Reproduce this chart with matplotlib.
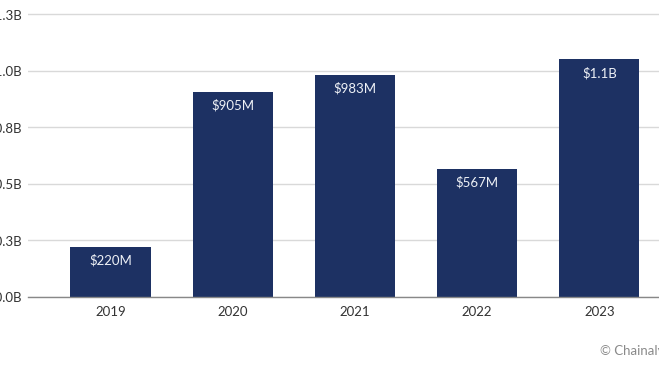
import matplotlib.pyplot as plt

# ================================================================
# DATA
# ================================================================
years = ["2019", "2020", "2021", "2022", "2023"]
values_b = [0.220, 0.905, 0.983, 0.567, 1.05]   # billions USD
bar_labels = ["$220M", "$905M", "$983M", "$567M", "$1.1B"]
y_ticks = [0.0, 0.25, 0.5, 0.75, 1.0, 1.25]
y_tick_labels = ["$0.0B", "$0.3B", "$0.5B", "$0.8B", "$1.0B", "$1.3B"]

NAVY = "#1d3163"
TEXT = "#333333"

plt.rcParams["font.family"] = ["Lato", "DejaVu Sans"]

# ================================================================
# PLOT
# ================================================================
fig = plt.figure(figsize=(6.59, 3.71), dpi=100)
ax = fig.add_axes([0.0425, 0.2003, 0.9967, 0.7919])

x = list(range(len(years)))
ax.bar(x, values_b, width=0.655, color=NAVY, zorder=3)

for xi, v, lab in zip(x, values_b, bar_labels):
    ax.text(xi, v - 0.06, lab, ha="center", va="center",
            color="#eef1f6", fontsize=9.5, zorder=4)

ax.set_xlim(-0.675, 4.7)
ax.set_ylim(0, 1.3)
ax.set_xticks(x)
ax.set_xticklabels(years)
ax.set_yticks(y_ticks)
ax.set_yticklabels(y_tick_labels)

ax.grid(axis="y", color="#d9d9d9", linewidth=1.0, zorder=0)
for s in ["top", "right", "left"]:
    ax.spines[s].set_visible(False)
ax.spines["bottom"].set_color("#888888")
ax.spines["bottom"].set_linewidth(1.0)
ax.spines["bottom"].set_zorder(4)

ax.tick_params(axis="both", length=0, labelsize=9.5, labelcolor=TEXT)
ax.tick_params(axis="y", pad=4.5)
ax.tick_params(axis="x", pad=7)

fig.text(600 / 659, 1 - 351 / 371, "\u00a9 Chainalysis", ha="left",
         va="center", fontsize=9.5, color="#8a8a8a")

fig.savefig("out.png", dpi=100)
